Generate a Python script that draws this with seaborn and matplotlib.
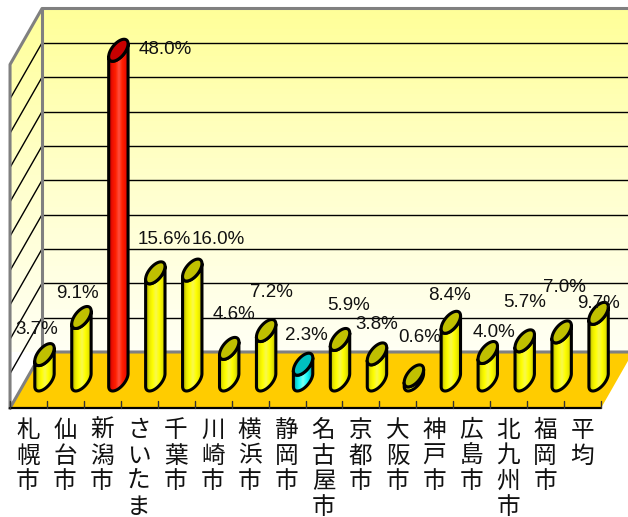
import matplotlib
matplotlib.use('Agg')
import matplotlib.pyplot as plt
import numpy as np
import pandas as pd
import seaborn as sns

from matplotlib.colors import LinearSegmentedColormap
from matplotlib.patches import Polygon


cities = ['札幌市', '仙台市', '新潟市', 'さいたま市', '千葉市', '川崎市', '横浜市',
          '静岡市', '名古屋市', '京都市', '大阪市', '神戸市', '広島市', '北九州市',
          '福岡市', '平均']
rates = [3.7, 9.1, 48.0, 15.6, 16.0, 4.6, 7.2, 2.3, 5.9, 3.8, 0.6, 8.4, 4.0,
         5.7, 7.0, 9.7]
# where each value label sits, pixels away from the top of its cylinder
label_dx = [-8, -4, 47, 9, 26, 5, 5, 3, 9, 0, 6, -1, 6, 0, 3, 0]
label_dy = [25, 24, 1, 33, 31, 34, 38, 29, 34, 29, 38, 27, 20, 38, 44, 10]
y_ticks = [5, 10, 15, 20, 25, 30, 35, 40, 45]

FIGSIZE = (6.28, 5.17)
CAT_PX = 36.94   # pixels per category
PCT_PX = 6.87    # pixels per percent
DEPTH_X = 16 / CAT_PX
DEPTH_Y = 28 / PCT_PX
CAP_X = 9.7 / CAT_PX
CAP_Y = 11 / PCT_PX
CAP_PHI = np.radians(54)

YELLOW = ['#a8a800', '#e8e800', '#ffff00', '#f8f850', '#ffff00', '#e8e800', '#a8a800']
RED = ['#b80000', '#f01000', '#ff2000', '#ff5040', '#ff2000', '#f01000', '#b80000']
CYAN = ['#009090', '#10d8d8', '#20ffff', '#80fff0', '#20ffff', '#10d8d8', '#009090']

bar_colors = ['yellow'] * len(cities)
bar_colors[2] = 'red'
bar_colors[7] = 'cyan'
ramps = {'yellow': YELLOW, 'red': RED, 'cyan': CYAN}
caps = {'yellow': '#c0c000', 'red': '#c80000', 'cyan': '#00c0c0'}


def gradient_patch(ax, verts, cols, extent, vertical=False, zorder=1):
    # imshow clipped to a polygon, there is no gradient fill in matplotlib
    cmap = LinearSegmentedColormap.from_list('g', cols)
    g = np.linspace(0, 1, 64)
    g = g[:, None] if vertical else g[None, :]
    im = ax.imshow(g, cmap=cmap, extent=extent, aspect='auto', zorder=zorder,
                   origin='upper' if vertical else 'lower')
    poly = Polygon(verts, closed=True, transform=ax.transData, fc='none', ec='none')
    ax.add_patch(poly)
    im.set_clip_path(poly)
    return im


def cap_xy(x, y, t):
    return x + CAP_X * np.cos(t), y + CAP_Y * np.cos(t - CAP_PHI)


sns.set_style('white')
plt.rcParams['font.family'] = ['Noto Sans CJK JP', 'DejaVu Sans']

fig = plt.figure(figsize=FIGSIZE, dpi=100)
ax = fig.add_axes([0, 0, 1, 1])
ax.set_axis_off()

df = pd.DataFrame({'city': cities, 'rate': rates, 'kind': bar_colors})
sns.barplot(data=df, x='city', y='rate', hue='kind', dodge=False, legend=False,
            palette={k: v[2] for k, v in ramps.items()}, width=2 * CAP_X,
            linewidth=0, ax=ax, zorder=6)

xmin, xmax = -44.5 / CAT_PX, (628 - 44.5) / CAT_PX
ymin, ymax = -137 / PCT_PX, 380 / PCT_PX
left, right = -0.5, len(cities) - 0.5
top = 50

# back wall and side wall
back = [(left + DEPTH_X, DEPTH_Y), (right + 1, DEPTH_Y), (right + 1, top + DEPTH_Y),
        (left + DEPTH_X, top + DEPTH_Y)]
side = [(left - DEPTH_X, -DEPTH_Y), (left + DEPTH_X, DEPTH_Y),
        (left + DEPTH_X, top + DEPTH_Y), (left - DEPTH_X, top - DEPTH_Y)]
wall_cols = ['#ffff99', '#ffffcc', '#fffff4']
wall_ext = (left - 1, right + 1, DEPTH_Y, top + DEPTH_Y)
gradient_patch(ax, back, wall_cols, wall_ext, vertical=True)
gradient_patch(ax, side, wall_cols, wall_ext, vertical=True)

for v in y_ticks:
    ax.plot([left + DEPTH_X, right + 1], [v + DEPTH_Y] * 2, color='k', lw=1, zorder=2,
            solid_capstyle='butt')
    ax.plot([left - DEPTH_X, left + DEPTH_X], [v - DEPTH_Y, v + DEPTH_Y], color='k', lw=1,
            zorder=2)

# floor
floor = [(left - DEPTH_X, -DEPTH_Y), (left + DEPTH_X, DEPTH_Y),
         (right + DEPTH_X, DEPTH_Y), (right - DEPTH_X, -DEPTH_Y)]
ax.add_patch(Polygon(floor, closed=True, fc='#ffcc00', ec='none', zorder=3))

grey = dict(color='#808080', lw=2.2, zorder=4, solid_capstyle='projecting')
ax.plot([left - DEPTH_X, left - DEPTH_X, left + DEPTH_X, right + 1],
        [-DEPTH_Y, top - DEPTH_Y, top + DEPTH_Y, top + DEPTH_Y], **grey)
ax.plot([left + DEPTH_X, left + DEPTH_X], [DEPTH_Y, top + DEPTH_Y], **grey)
ax.plot([left - DEPTH_X, left + DEPTH_X, right + DEPTH_X], [-DEPTH_Y, DEPTH_Y, DEPTH_Y], **grey)
ax.plot([left - DEPTH_X, right - DEPTH_X], [-DEPTH_Y, -DEPTH_Y], color='k', lw=1.6, zorder=5)
for i in range(len(cities) + 1):
    ax.plot([left - DEPTH_X + i] * 2, [-DEPTH_Y, -DEPTH_Y + 1], color='#333333', lw=1, zorder=5)

# cylinders, the seaborn bars give position and height
for bar, kind in zip(sorted(ax.patches[:len(cities)], key=lambda b: b.get_x()), bar_colors):
    x = bar.get_x() + bar.get_width() / 2
    h = bar.get_height()
    t_low = np.linspace(np.pi, 2 * np.pi, 40)
    lx, ly = cap_xy(x, 0, t_low)
    tx, ty = cap_xy(x, h, t_low[::-1])
    body = np.vstack([np.column_stack([lx, ly]), np.column_stack([tx, ty])])
    clip = Polygon(body, closed=True, transform=ax.transData, fc='none', ec='none')
    ax.add_patch(clip)
    bar.set_clip_path(clip)
    gradient_patch(ax, body, ramps[kind], (x - CAP_X, x + CAP_X, -5, h + 5), zorder=7)
    ax.add_patch(Polygon(body, closed=True, fc='none', ec='k', lw=2.2, zorder=8, joinstyle='round'))
    t = np.linspace(0, 2 * np.pi, 60)
    cx, cy = cap_xy(x, h, t)
    ax.add_patch(Polygon(np.column_stack([cx, cy]), closed=True, fc=caps[kind], ec='k', lw=2.2,
                         zorder=9))

for i, (city, value) in enumerate(zip(cities, rates)):
    ax.annotate(f'{value:.1f}%', (i, value), xytext=(label_dx[i], label_dy[i]),
                textcoords='offset pixels', ha='center', va='center', fontsize=13.5,
                family=['Liberation Sans'], color='#111111', zorder=10)
    ax.annotate('\n'.join(city), (i, -DEPTH_Y), xytext=(-16.5, -11), textcoords='offset pixels',
                ha='center', va='top', fontsize=17, linespacing=1.14, color='#111111',
                annotation_clip=False, zorder=10)

ax.set_xlim(xmin, xmax)
ax.set_ylim(ymin, ymax)
ax.set_xlabel('')
ax.set_ylabel('')

fig.savefig('out.png', dpi=100)
